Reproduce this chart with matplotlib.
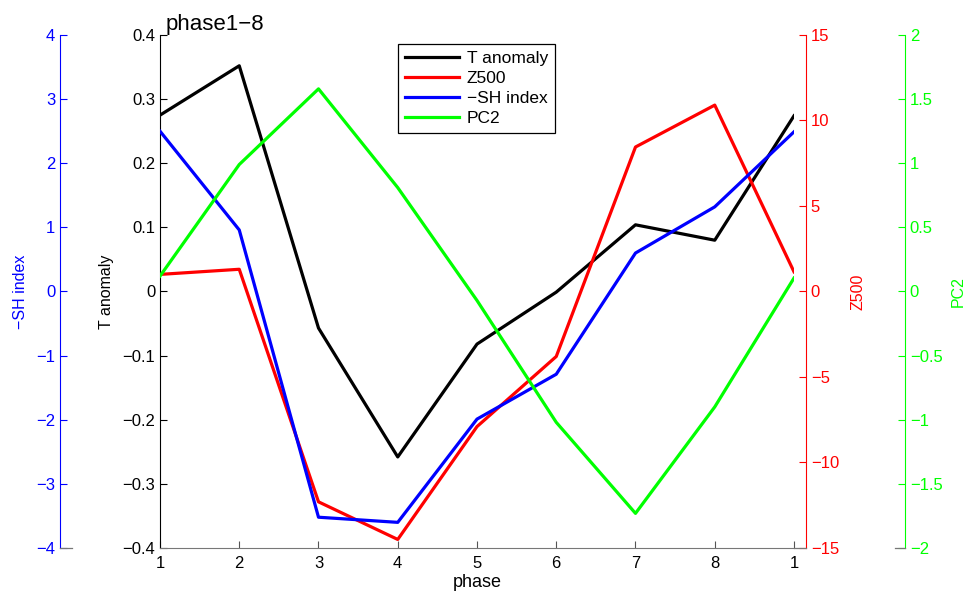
import numpy as np
import matplotlib
matplotlib.use('Agg')
import matplotlib.pyplot as plt
from matplotlib.lines import Line2D
from matplotlib.ticker import FuncFormatter

plt.rcParams['font.family'] = ['Liberation Sans', 'DejaVu Sans']
plt.rcParams['axes.unicode_minus'] = True

phase_labels = ['1', '2', '3', '4', '5', '6', '7', '8', '1']
t_anomaly = [0.275, 0.352, -0.057, -0.258, -0.082, -0.001, 0.104, 0.080, 0.274]
z500 = [1.0, 1.3, -12.3, -14.5, -7.9, -3.8, 8.45, 10.9, 1.15]
sh_index = [2.5, 0.96, -3.52, -3.6, -1.99, -1.29, 0.6, 1.32, 2.49]
pc2 = [0.12, 0.99, 1.58, 0.81, -0.07, -1.02, -1.73, -0.9, 0.105]

x = np.arange(1, len(phase_labels) + 1)
W, H = 978, 598


def fmt(v, pos):
    s = ('%g' % round(v, 6))
    return s.replace('-', '\u2212')


fig = plt.figure(figsize=(W / 100, H / 100), dpi=100)
left, right, top, bottom = 160, 794, 35, 548
ax = fig.add_axes([left / W, 1 - bottom / H, (right - left) / W, (bottom - top) / H])
axw = right - left

ax.plot(x, t_anomaly, color='black', lw=2.3, label='T anomaly')
ax.set_xlim(1, 9)
ax.set_ylim(-0.4, 0.4)
ax.set_xticks(x)
ax.set_xticklabels(phase_labels)
ax.set_yticks(np.arange(-4, 5) / 10)
ax.yaxis.set_major_formatter(FuncFormatter(fmt))
ax.tick_params(direction='in', labelsize=12, length=5, width=0.8)
ax.tick_params(axis='x', colors='#555555', labelcolor='black', pad=6)
ax.spines['top'].set_visible(False)
ax.spines['right'].set_visible(False)
ax.spines['bottom'].set_color('#777777')
ax.set_xlabel('phase', fontsize=13, labelpad=2)
ax.set_ylabel('T anomaly', fontsize=11.5, labelpad=6)
ax.text(0.008, 1.0, 'phase1\u22128', transform=ax.transAxes, va='bottom', ha='left', fontsize=16)


def extra_axis(color, side, xpix, lim, ticks, label, labelpad):
    a = ax.twinx()
    a.set_ylim(*lim)
    a.set_yticks(ticks)
    a.yaxis.set_major_formatter(FuncFormatter(fmt))
    for s in a.spines.values():
        s.set_visible(False)
    a.spines[side].set_visible(True)
    a.spines[side].set_position(('axes', (xpix - left) / axw))
    a.spines[side].set_color(color)
    a.yaxis.set_ticks_position(side)
    a.yaxis.set_label_position(side)
    a.tick_params(axis='y', direction='in', colors=color, labelsize=12, length=5, width=0.8)
    a.set_ylabel(label, color=color, fontsize=11.5, labelpad=labelpad)
    return a


ax_r = extra_axis('#ff0000', 'right', 806, (-15, 15), np.arange(-15, 16, 5), 'Z500', 8)
ax_b = extra_axis('#0000ff', 'left', 60, (-4, 4), np.arange(-4, 5, 1), '\u2212SH index', 6)
ax_g = extra_axis('#00ff00', 'right', 905, (-2, 2), np.arange(-2, 2.01, 0.5), 'PC2', 6)

ax_r.plot(x, z500, color='#ff0000', lw=2.3, label='Z500')
ax_b.plot(x, sh_index, color='#0000ff', lw=2.3, label='\u2212SH index')
ax_g.plot(x, pc2, color='#00ff00', lw=2.3, label='PC2')

# small grey stubs at the base of the extra axes
for x0, x1 in [(60, 72), (794, 806), (895, 905)]:
    fig.add_artist(Line2D([x0 / W, x1 / W], [1 - bottom / H] * 2, color='#777777', lw=0.9))

handles = ax.get_lines() + ax_r.get_lines() + ax_b.get_lines() + ax_g.get_lines()
leg = ax_g.legend(handles=handles, loc='upper left', bbox_to_anchor=(398 / W, 1 - 44 / H),
                  bbox_transform=fig.transFigure, fancybox=False, framealpha=1,
                  edgecolor='black', fontsize=12.5, handlelength=3.1, borderpad=0.4,
                  labelspacing=0.27, handletextpad=0.45, borderaxespad=0)
leg.get_frame().set_linewidth(0.9)

fig.savefig('out.png', dpi=100)
